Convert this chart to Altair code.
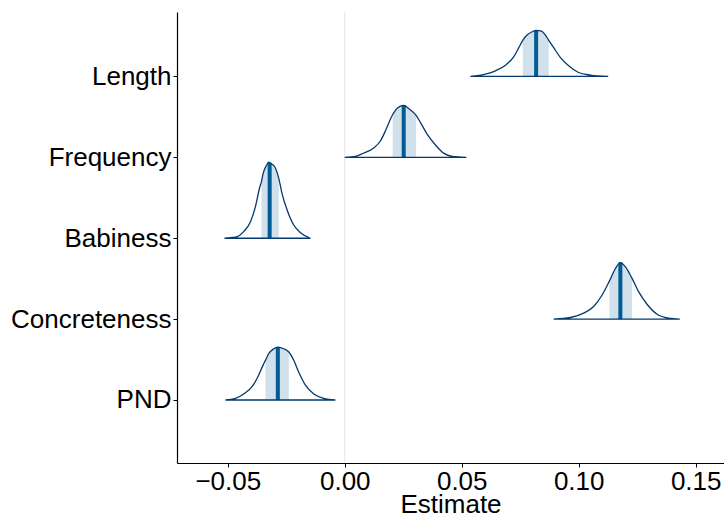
import altair as alt
import pandas as pd

# Parameters (top to bottom) and their row positions
params = ["Length", "Frequency", "Babiness", "Concreteness", "PND"]
positions = [5, 4, 3, 2, 1]

# Density curves (x = estimate, h = scaled density height in row units)
length_x = [0.0537, 0.0601, 0.0644, 0.0687, 0.0722, 0.0744, 0.0761, 0.0779, 0.0801, 0.0818,
            0.0841, 0.0858, 0.0872, 0.0893, 0.0922, 0.0957, 0.0999, 0.1050, 0.1126]
length_h = [0.0, 0.029, 0.070, 0.140, 0.242, 0.356, 0.447, 0.512, 0.553, 0.570,
            0.561, 0.512, 0.447, 0.356, 0.233, 0.131, 0.049, 0.017, 0.0]

frequency_x = [0.0000, 0.0046, 0.0081, 0.0124, 0.0153, 0.0174, 0.0195, 0.0205, 0.0217, 0.0238,
               0.0252, 0.0274, 0.0305, 0.0324, 0.0352, 0.0388, 0.0424, 0.0459, 0.0520]
frequency_h = [0.0, 0.012, 0.054, 0.115, 0.205, 0.328, 0.471, 0.530, 0.585, 0.634,
               0.643, 0.601, 0.520, 0.429, 0.287, 0.152, 0.049, 0.012, 0.0]

babiness_x = [-0.0514, -0.0467, -0.0432, -0.0403, -0.0382, -0.0363, -0.0356, -0.0349, -0.0335,
              -0.0325, -0.0315, -0.0300, -0.0282, -0.0268, -0.0246, -0.0218, -0.0189, -0.0147]
babiness_h = [0.0, 0.012, 0.081, 0.204, 0.388, 0.633, 0.700, 0.798, 0.899,
              0.940, 0.920, 0.887, 0.740, 0.552, 0.347, 0.163, 0.069, 0.0]

concreteness_x = [0.0893, 0.0965, 0.1021, 0.1064, 0.1100, 0.1131, 0.1157, 0.1178, 0.1200,
                  0.1228, 0.1256, 0.1292, 0.1335, 0.1385, 0.1432]
concreteness_h = [0.0, 0.020, 0.074, 0.155, 0.298, 0.470, 0.626, 0.699, 0.645,
                  0.503, 0.339, 0.184, 0.061, 0.012, 0.0]

pnd_x = [-0.0510, -0.0467, -0.0432, -0.0396, -0.0368, -0.0346, -0.0339, -0.0325, -0.0303,
         -0.0286, -0.0261, -0.0239, -0.0218, -0.0197, -0.0168, -0.0132, -0.0090, -0.0040]
pnd_h = [0.0, 0.020, 0.074, 0.164, 0.307, 0.450, 0.490, 0.573, 0.634,
         0.654, 0.634, 0.593, 0.491, 0.347, 0.184, 0.074, 0.020, 0.0]

# Central interval (shaded) and median
interval_lo = [0.0761, 0.0205, -0.0356, 0.1131, -0.0339]
interval_hi = [0.0872, 0.0305, -0.0282, 0.1228, -0.0239]
medians = [0.0818, 0.0252, -0.0321, 0.1178, -0.0286]
median_h = [0.570, 0.643, 0.935, 0.699, 0.654]

curves_x = [length_x, frequency_x, babiness_x, concreteness_x, pnd_x]
curves_h = [length_h, frequency_h, babiness_h, concreteness_h, pnd_h]

rows = []
for p, pos, xs, hs, lo, hi in zip(params, positions, curves_x, curves_h, interval_lo, interval_hi):
    for x, h in zip(xs, hs):
        rows.append({"param": p, "pos": pos, "x": x, "h": h, "lo": lo, "hi": hi})
dens = pd.DataFrame(rows)

med = pd.DataFrame({"param": params, "pos": positions, "x": medians, "h": median_h})
zero = pd.DataFrame({"x": [0.0]})

XDOM = [-0.0717, 0.1621]
YDOM = [0.221, 5.797]

xscale = alt.Scale(domain=XDOM, nice=False, zero=False)
yscale = alt.Scale(domain=YDOM, nice=False, zero=False)

FONT = "Liberation Sans"
xaxis = alt.Axis(values=[-0.05, 0.0, 0.05, 0.10, 0.15], format=".2f", title="Estimate",
                 grid=False, domainColor="black", domainWidth=1.2, tickColor="black",
                 tickSize=4, labelFontSize=26, labelColor="black", labelPadding=1,
                 titleFontSize=26, titleColor="black", titleFontWeight="normal",
                 titlePadding=-3, labelFont=FONT, titleFont=FONT)
yaxis = alt.Axis(values=[1, 2, 3, 4, 5],
                 labelExpr="['', 'PND', 'Concreteness', 'Babiness', 'Frequency', 'Length'][datum.value]",
                 title=None, grid=False, domainColor="black", domainWidth=1.2, tickColor="black",
                 tickSize=4, labelFontSize=26, labelColor="black", labelPadding=2,
                 labelFont=FONT)

zero_line = alt.Chart(zero).mark_rule(color="#e6e6e6", strokeWidth=1).encode(
    x=alt.X("x:Q", scale=xscale, axis=xaxis)
)

shade = alt.Chart(dens).transform_filter(
    "datum.x >= datum.lo - 1e-9 && datum.x <= datum.hi + 1e-9"
).transform_calculate(top="datum.pos + datum.h").mark_area(
    color="#d1e1ec", interpolate="monotone", opacity=1
).encode(
    x=alt.X("x:Q", scale=xscale, axis=xaxis),
    y=alt.Y("top:Q", scale=yscale, axis=yaxis),
    y2="pos:Q",
    detail="param:N",
)

median_rule = alt.Chart(med).transform_calculate(top="datum.pos + datum.h").mark_rule(
    color="#005b96", strokeWidth=4
).encode(
    x=alt.X("x:Q", scale=xscale, axis=xaxis),
    y=alt.Y("pos:Q", scale=yscale, axis=yaxis),
    y2="top:Q",
)

outline = alt.Chart(dens).transform_calculate(top="datum.pos + datum.h").mark_area(
    fillOpacity=0, stroke="#03396c", strokeWidth=1.3, interpolate="monotone"
).encode(
    x=alt.X("x:Q", scale=xscale, axis=xaxis),
    y=alt.Y("top:Q", scale=yscale, axis=yaxis),
    y2="pos:Q",
    detail="param:N",
)

chart = alt.layer(zero_line, shade, median_rule, outline).properties(
    width=547, height=451,
    autosize=alt.AutoSizeParams(type="none"),
    padding={"left": 177, "top": 12, "right": 0, "bottom": 53},
    background="white",
).configure_view(stroke=None)

chart.save("out.html", embed_options={"renderer": "svg", "actions": False})
